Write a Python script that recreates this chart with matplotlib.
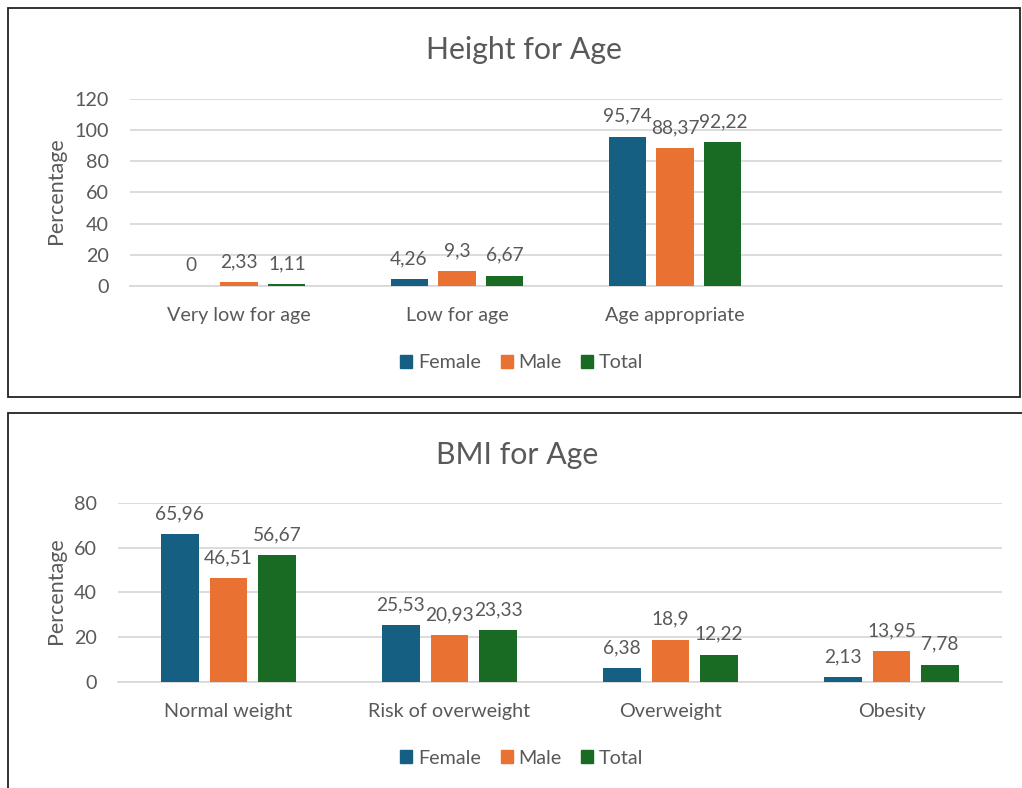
import matplotlib.pyplot as plt
import numpy as np
from matplotlib.patches import Rectangle, Patch

# data
series = ['Female', 'Male', 'Total']
colors = ['#156082', '#E97132', '#196B24']

hfa_categories = ['Very low for age', 'Low for age', 'Age appropriate', '']
hfa_female = [0, 4.26, 95.74]
hfa_male = [2.33, 9.3, 88.37]
hfa_total = [1.11, 6.67, 92.22]

bmi_categories = ['Normal weight', 'Risk of overweight', 'Overweight', 'Obesity']
bmi_female = [65.96, 25.53, 6.38, 2.13]
bmi_male = [46.51, 20.93, 18.9, 13.95]
bmi_total = [56.67, 23.33, 12.22, 7.78]

plt.rcParams['font.family'] = ['Lato', 'DejaVu Sans']
text_color = '#595959'
grid_color = '#D9D9D9'
fs = 14.2

W, H = 1022, 788
fig = plt.figure(figsize=(W / 100, H / 100), dpi=100)


def fx(px):
    return px / W


def fy(py):
    return 1 - py / H


def draw_panel(ax, categories, values, ymax, step, title, title_x, title_y, legend_y, ylabel_y):
    n = len(categories)
    x = np.arange(n)
    for i, (vals, c) in enumerate(zip(values, colors)):
        xs = np.arange(len(vals)) + (i - 1) * 0.22
        bars = ax.bar(xs, vals, width=0.17, color=c, zorder=3)
        for b, v in zip(bars, vals):
            ax.annotate(f'{v:g}'.replace('.', ','),
                        (b.get_x() + b.get_width() / 2, v),
                        xytext=(0, 8.5), textcoords='offset points',
                        ha='center', va='bottom', fontsize=13.8, color=text_color)
    ax.set_xlim(-0.5, n - 0.5)
    ax.set_ylim(0, ymax)
    ax.set_yticks(np.arange(0, ymax + 1, step))
    ax.set_xticks(x)
    ax.set_xticklabels(categories)
    ax.tick_params(length=0, labelsize=fs, labelcolor=text_color, pad=15)
    ax.tick_params(axis='y', pad=15)
    ax.grid(axis='y', color=grid_color, linewidth=1.3, zorder=0)
    for s in ['top', 'right', 'left']:
        ax.spines[s].set_visible(False)
    ax.spines['bottom'].set_color(grid_color)
    ax.spines['bottom'].set_linewidth(1.3)
    fig.text(fx(56), fy(ylabel_y), 'Percentage', rotation=90, ha='center', va='center',
             fontsize=15.5, color=text_color)
    fig.text(fx(title_x), fy(title_y), title, ha='center', va='center', fontsize=21.8,
             color=text_color)
    handles = [Patch(color=c, label=s) for s, c in zip(series, colors)]
    fig.legend(handles=handles, loc='center', bbox_to_anchor=(fx(522), fy(legend_y)), ncol=3,
               frameon=False, fontsize=fs, labelcolor=text_color, handlelength=0.6,
               handleheight=0.6, handletextpad=0.3, columnspacing=1.0)


# top panel
ax1 = fig.add_axes([fx(130), fy(286), fx(1002 - 130), (286 - 98.7) / H])
draw_panel(ax1, hfa_categories, [hfa_female, hfa_male, hfa_total], 120, 20,
           'Height for Age', 524, 50, 363, 191)

# bottom panel
ax2 = fig.add_axes([fx(118), fy(682), fx(1002 - 118), (682 - 502.7) / H])
draw_panel(ax2, bmi_categories, [bmi_female, bmi_male, bmi_total], 80, 20,
           'BMI for Age', 517, 455, 758, 591)

# panel borders
fig.add_artist(Rectangle((fx(8), fy(397)), fx(1020 - 8), (397 - 8) / H,
                         transform=fig.transFigure, fill=False, edgecolor='#222222', linewidth=1.3))
fig.add_artist(Rectangle((fx(8), fy(800)), fx(1040 - 8), (800 - 413) / H,
                         transform=fig.transFigure, fill=False, edgecolor='#222222', linewidth=1.3))

fig.savefig('out.png', dpi=100)
